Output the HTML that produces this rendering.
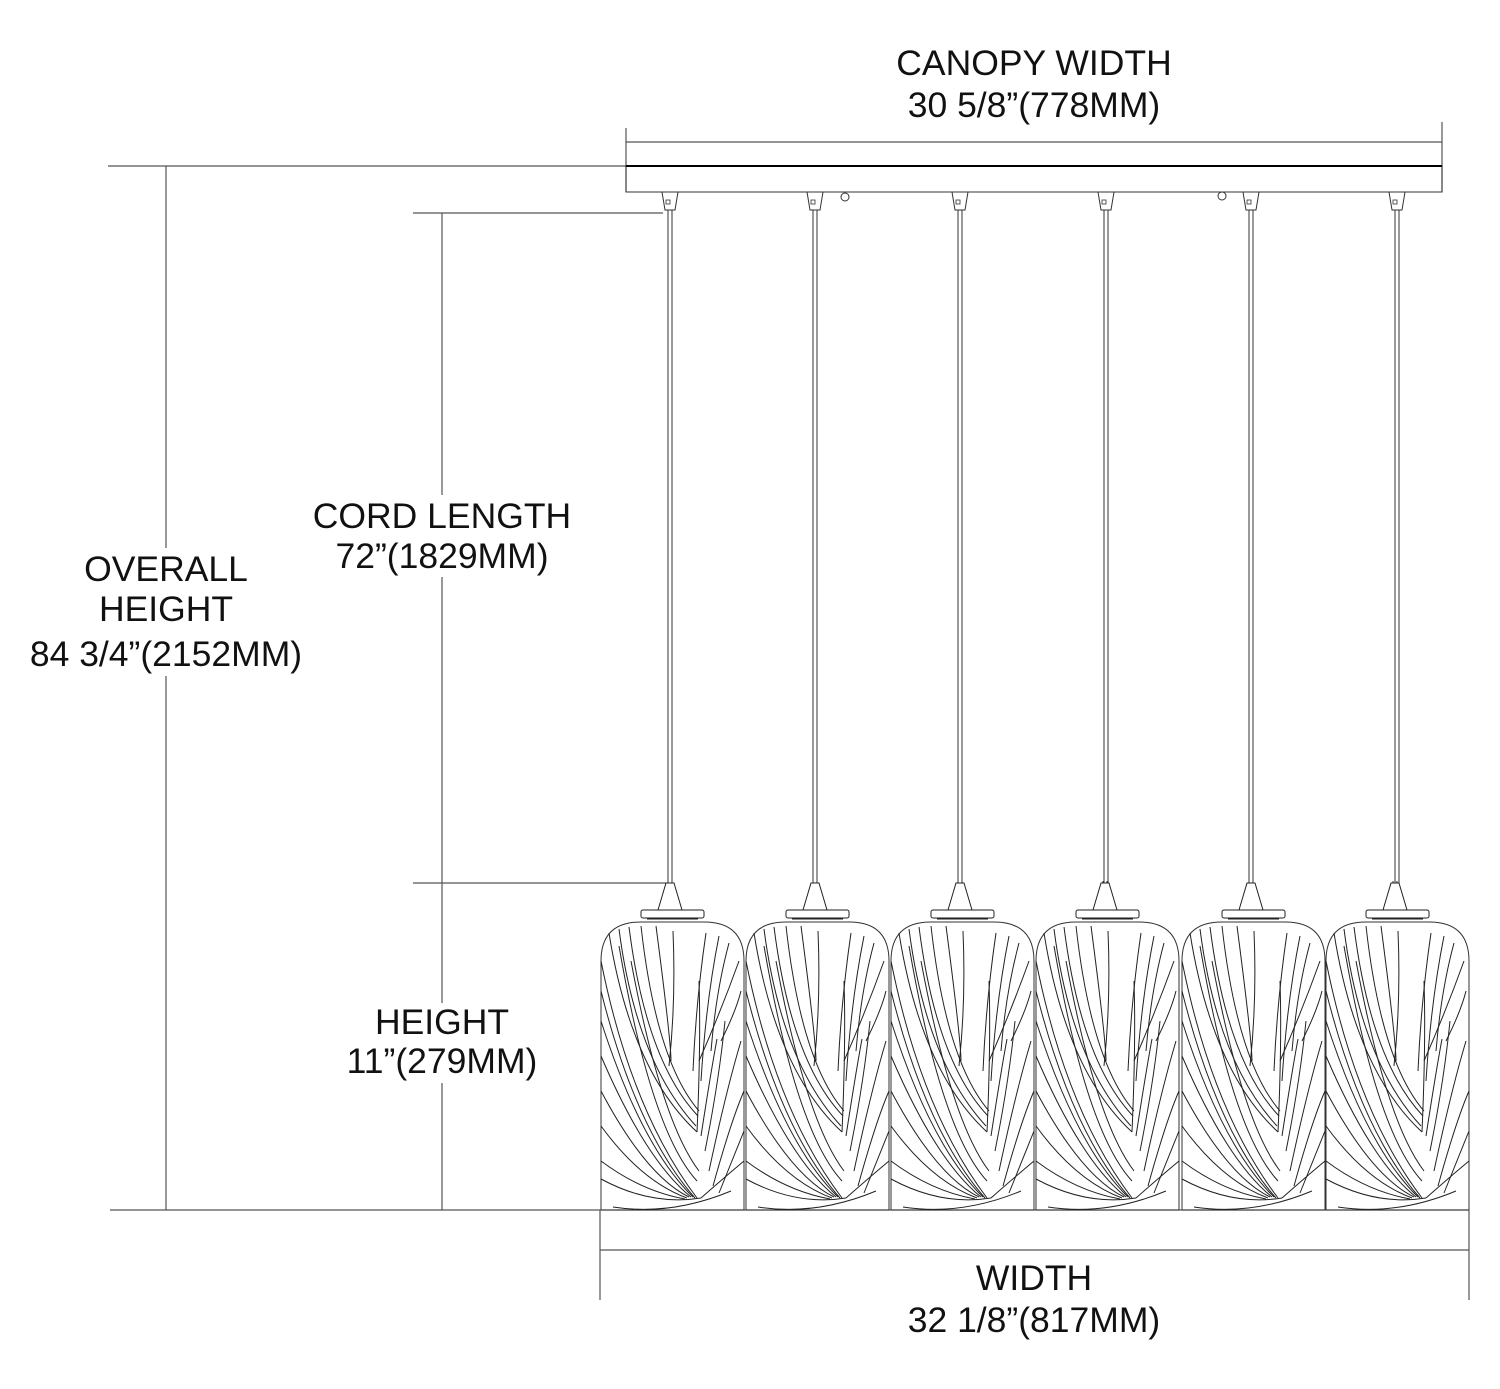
<!DOCTYPE html>
<html><head><meta charset="utf-8"><style>
html,body{margin:0;padding:0;background:#fff;}
svg{display:block}
text{font-family:"Liberation Sans",sans-serif;font-size:35.5px;fill:#111;text-anchor:middle}
</style></head><body>
<svg width="1500" height="1389" viewBox="0 0 1500 1389" xmlns="http://www.w3.org/2000/svg">
<defs>
<g id="shade" fill="none" stroke="#222" stroke-width="1">
  <path d="M67,-40 V-38 M71,-40 V-38" stroke="#333"/>
  <path d="M65,-38 L73,-38 L81,-11 L57,-11 Z" fill="#fff"/>
  <rect x="40" y="-11" width="63" height="8" rx="2" fill="#fff"/>
  <path d="M46,-2 H97"/>
  <path d="M0,289 V40 Q0,1 40,1 H103 Q143,1 143,40 V289" stroke="#333"/>
  <path d="M0,289 H143" stroke="#333"/>
  <path d="M0,40 Q30,190 96,277"/>
  <path d="M0,70 Q35,210 94,277"/>
  <path d="M0,100 Q40,225 92,276"/>
  <path d="M0,135 Q45,240 90,276"/>
  <path d="M0,170 Q45,255 88,276"/>
  <path d="M0,205 Q40,260 86,277"/>
  <path d="M0,240 Q40,270 84,278"/>
  <path d="M0,258 Q50,285 100,277"/>
  <path d="M12,286 Q70,295 130,270"/>
  <path d="M8,12 Q30,150 96,211"/>
  <path d="M18,8 Q35,140 95,205"/>
  <path d="M28,6 Q45,140 97,195"/>
  <path d="M40,5 Q55,140 98,190"/>
  <path d="M55,5 Q70,120 70,140"/>
  <path d="M72,10 Q75,80 68,145"/>
  <path d="M18,25 Q50,210 96,260"/>
  <path d="M30,40 Q60,200 98,250"/>
  <path d="M96,211 Q100,120 98,60"/>
  <path d="M92,150 Q95,80 105,12"/>
  <path d="M100,160 Q105,80 118,15"/>
  <path d="M110,130 Q115,70 128,22"/>
  <path d="M98,140 Q120,90 138,40"/>
  <path d="M100,215 Q110,150 116,118"/>
  <path d="M104,230 Q118,160 124,100"/>
  <path d="M108,250 Q125,170 140,120"/>
  <path d="M112,265 Q130,200 143,170"/>
  <path d="M118,272 Q135,230 143,210"/>
  <path d="M100,277 Q125,255 143,240"/>
  <path d="M120,120 Q135,90 140,70"/>
</g>
<g id="hook" fill="none" stroke="#333" stroke-width="1">
  <path d="M-8,0 L8,0 L5,18 L-5,18 Z" fill="#fff"/>
  <rect x="-4" y="8" width="4" height="4" stroke-width="0.8"/>
</g>
</defs>

<g stroke="#555" stroke-width="1.2" fill="none">
  <line x1="626" y1="128" x2="626" y2="192"/>
  <line x1="1442" y1="122" x2="1442" y2="192"/>
  <line x1="626" y1="142" x2="1442" y2="142"/>
  <line x1="108" y1="166" x2="626" y2="166"/>
  <line x1="166" y1="166" x2="166" y2="1210"/>
  <line x1="110" y1="1210" x2="1469" y2="1210"/>
  <line x1="413" y1="213" x2="663" y2="213"/>
  <line x1="442" y1="213" x2="442" y2="1210"/>
  <line x1="413" y1="883" x2="666" y2="883"/>
  <line x1="600" y1="1210" x2="600" y2="1300"/>
  <line x1="1469" y1="1210" x2="1469" y2="1300"/>
  <line x1="600" y1="1250" x2="1469" y2="1250"/>
</g>
<g fill="#fff">
  <rect x="308" y="495" width="268" height="82"/>
  <rect x="78" y="548" width="178" height="86"/>
  <rect x="25" y="634" width="282" height="42"/>
  <rect x="342" y="1003" width="202" height="80"/>
</g>
<text x="1034" y="75">CANOPY WIDTH</text>
<text x="1034" y="117">30 5/8”(778MM)</text>
<rect x="626" y="166" width="816" height="26" fill="none" stroke="#333" stroke-width="1"/>
<line x1="626" y1="166" x2="1442" y2="166" stroke="#000" stroke-width="2"/>
<circle cx="845" cy="197" r="4" fill="#fff" stroke="#333"/>
<circle cx="1222" cy="196" r="4" fill="#fff" stroke="#333"/>

<use href="#hook" x="670" y="192"/>
<use href="#hook" x="815" y="192"/>
<use href="#hook" x="960" y="192"/>
<use href="#hook" x="1106" y="192"/>
<use href="#hook" x="1251" y="192"/>
<use href="#hook" x="1397" y="192"/>
<g stroke="#333" stroke-width="1">
  <path d="M668,210 V883 M672,210 V883"/>
  <path d="M813,210 V883 M817,210 V883"/>
  <path d="M958,210 V883 M962,210 V883"/>
  <path d="M1104,210 V883 M1108,210 V883"/>
  <path d="M1249,210 V883 M1253,210 V883"/>
  <path d="M1395,210 V883 M1399,210 V883"/>
</g>

<use href="#shade" x="601" y="921"/>
<use href="#shade" x="746" y="921"/>
<use href="#shade" x="891" y="921"/>
<use href="#shade" x="1036" y="921"/>
<use href="#shade" x="1182" y="921"/>
<use href="#shade" x="1326" y="921"/>

<text x="442" y="528">CORD LENGTH</text>
<text x="442" y="568">72”(1829MM)</text>
<text x="166" y="581">OVERALL</text>
<text x="166" y="621">HEIGHT</text>
<text x="166" y="666">84 3/4”(2152MM)</text>
<text x="442" y="1034">HEIGHT</text>
<text x="442" y="1073">11”(279MM)</text>
<text x="1034" y="1290">WIDTH</text>
<text x="1034" y="1332">32 1/8”(817MM)</text>
</svg>
</body></html>
